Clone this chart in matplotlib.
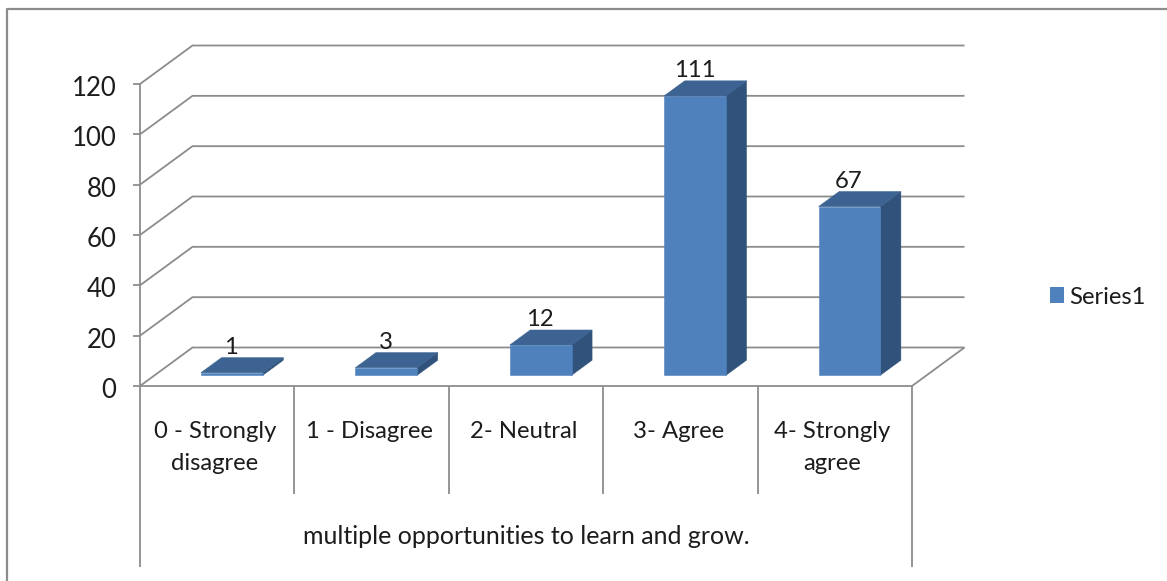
import matplotlib
matplotlib.use("Agg")
import matplotlib.pyplot as plt
from matplotlib.lines import Line2D
from matplotlib.patches import Patch, Polygon
from matplotlib.transforms import ScaledTranslation

# === data ===
CATEGORIES = ["0 - Strongly\ndisagree", "1 - Disagree", "2- Neutral", "3- Agree", "4- Strongly\nagree"]
VALUES = [1, 3, 12, 111, 67]
Y_TICKS = [0, 20, 40, 60, 80, 100, 120]
GROUP_LABEL = "multiple opportunities to learn and grow."
SERIES_NAME = "Series1"

# === settings ===
WIDTH, HEIGHT = 1167, 581
FRONT_LEFT, FRONT_RIGHT = 140, 912
FRONT_BOTTOM, FRONT_TOP = 386, 84
DEPTH_X = 52.5 / ((FRONT_RIGHT - FRONT_LEFT) / 5)       # back wall shift, in categories
DEPTH_Y = 38.5 / ((FRONT_BOTTOM - FRONT_TOP) / 120)     # back wall shift, in value units
BAR_WIDTH = 0.40
BAR_D0, BAR_D1 = 0.28, 0.67
GREY = "#8c8c8c"
TEXT = "#1c1c1c"
FRONT_COL = "#4f81bd"
TOP_COL = "#3c6391"
SIDE_COL = "#31527b"
FS = 17.2

plt.rcParams["font.family"] = ["Lato", "DejaVu Sans"]


def proj(x, v, d):
    return (x + d * DEPTH_X, v + d * DEPTH_Y)


fig = plt.figure(figsize=(WIDTH / 100, HEIGHT / 100), dpi=100)
ax = fig.add_axes([FRONT_LEFT / WIDTH, 1 - FRONT_BOTTOM / HEIGHT,
                   (FRONT_RIGHT - FRONT_LEFT) / WIDTH, (FRONT_BOTTOM - FRONT_TOP) / HEIGHT])
n = len(CATEGORIES)
ax.set_xlim(0, n)
ax.set_ylim(Y_TICKS[0], Y_TICKS[-1])
ax.patch.set_alpha(0)

for s in ["top", "right"]:
    ax.spines[s].set_visible(False)
for s in ["left", "bottom"]:
    ax.spines[s].set_color(GREY)
    ax.spines[s].set_linewidth(1.3)

ax.set_yticks(Y_TICKS)
ax.tick_params(axis="y", length=5, width=1.3, color=GREY, pad=12, labelsize=18.5, labelcolor=TEXT)
ax.set_xticks([i + 0.5 - 0.015 for i in range(n)])
ax.set_xticklabels(CATEGORIES, fontsize=FS, color=TEXT, linespacing=1.6)
ax.tick_params(axis="x", length=0, pad=25.5)

# nudge the value labels down a little
nudge = ScaledTranslation(0, -2 / 100, fig.dpi_scale_trans)
for lab in ax.get_yticklabels():
    lab.set_transform(lab.get_transform() + nudge)

# walls and floor
line_kw = dict(color=GREY, lw=1.3, clip_on=False, solid_capstyle="butt")
for t in Y_TICKS:
    bx, by = proj(0, t, 1)
    ax.plot([0, bx, bx + n], [t, by, by], **line_kw)
bx, by = proj(n, 0, 1)
ax.plot([n, bx], [0, by], **line_kw)

# category separators below the axis
sep_trans = ax.get_xaxis_transform()
for i in range(n + 1):
    low = -0.599 if i in (0, n) else -0.358
    ax.plot([i, i], [0, low], transform=sep_trans, **line_kw)
ax.text(2.5 + 0.003, -0.499, GROUP_LABEL, transform=sep_trans, ha="center", va="center",
        fontsize=18, color=TEXT)

# bars, back faces first
for i, v in enumerate(VALUES):
    x0 = i + 0.5 - BAR_WIDTH / 2
    x1 = i + 0.5 + BAR_WIDTH / 2
    top = [proj(x0, v, BAR_D0), proj(x1, v, BAR_D0), proj(x1, v, BAR_D1), proj(x0, v, BAR_D1)]
    side = [proj(x1, 0, BAR_D0), proj(x1, v, BAR_D0), proj(x1, v, BAR_D1), proj(x1, 0, BAR_D1)]
    front = [proj(x0, 0, BAR_D0), proj(x1, 0, BAR_D0), proj(x1, v, BAR_D0), proj(x0, v, BAR_D0)]
    for pts, col in [(side, SIDE_COL), (top, TOP_COL), (front, FRONT_COL)]:
        ax.add_patch(Polygon(pts, closed=True, facecolor=col, edgecolor=col, lw=0.4,
                             clip_on=False, zorder=3))
    lx = proj(i + 0.5 - 0.004, v, BAR_D0)[0]
    ly = proj(i + 0.5, v, BAR_D1)[1]
    ax.annotate(str(v), (lx, ly), xytext=(0, 0), textcoords="offset points", ha="center",
                va="bottom", fontsize=FS, color=TEXT, zorder=4, annotation_clip=False)

# legend
ax.legend(handles=[Patch(facecolor=FRONT_COL, label=SERIES_NAME)], frameon=False, fontsize=FS,
          loc="center left", bbox_to_anchor=(1050 / WIDTH, 1 - 297 / HEIGHT),
          bbox_transform=fig.transFigure, handlelength=0.6, handleheight=0.6,
          handletextpad=0.2, borderpad=0, borderaxespad=0, labelcolor=TEXT)

# outer chart frame
fig.add_artist(Line2D([6.5 / WIDTH, 6.5 / WIDTH, 1], [0, 1 - 8.5 / HEIGHT, 1 - 8.5 / HEIGHT],
                      color=GREY, lw=1.6, transform=fig.transFigure))

fig.savefig("out.png", dpi=100)
